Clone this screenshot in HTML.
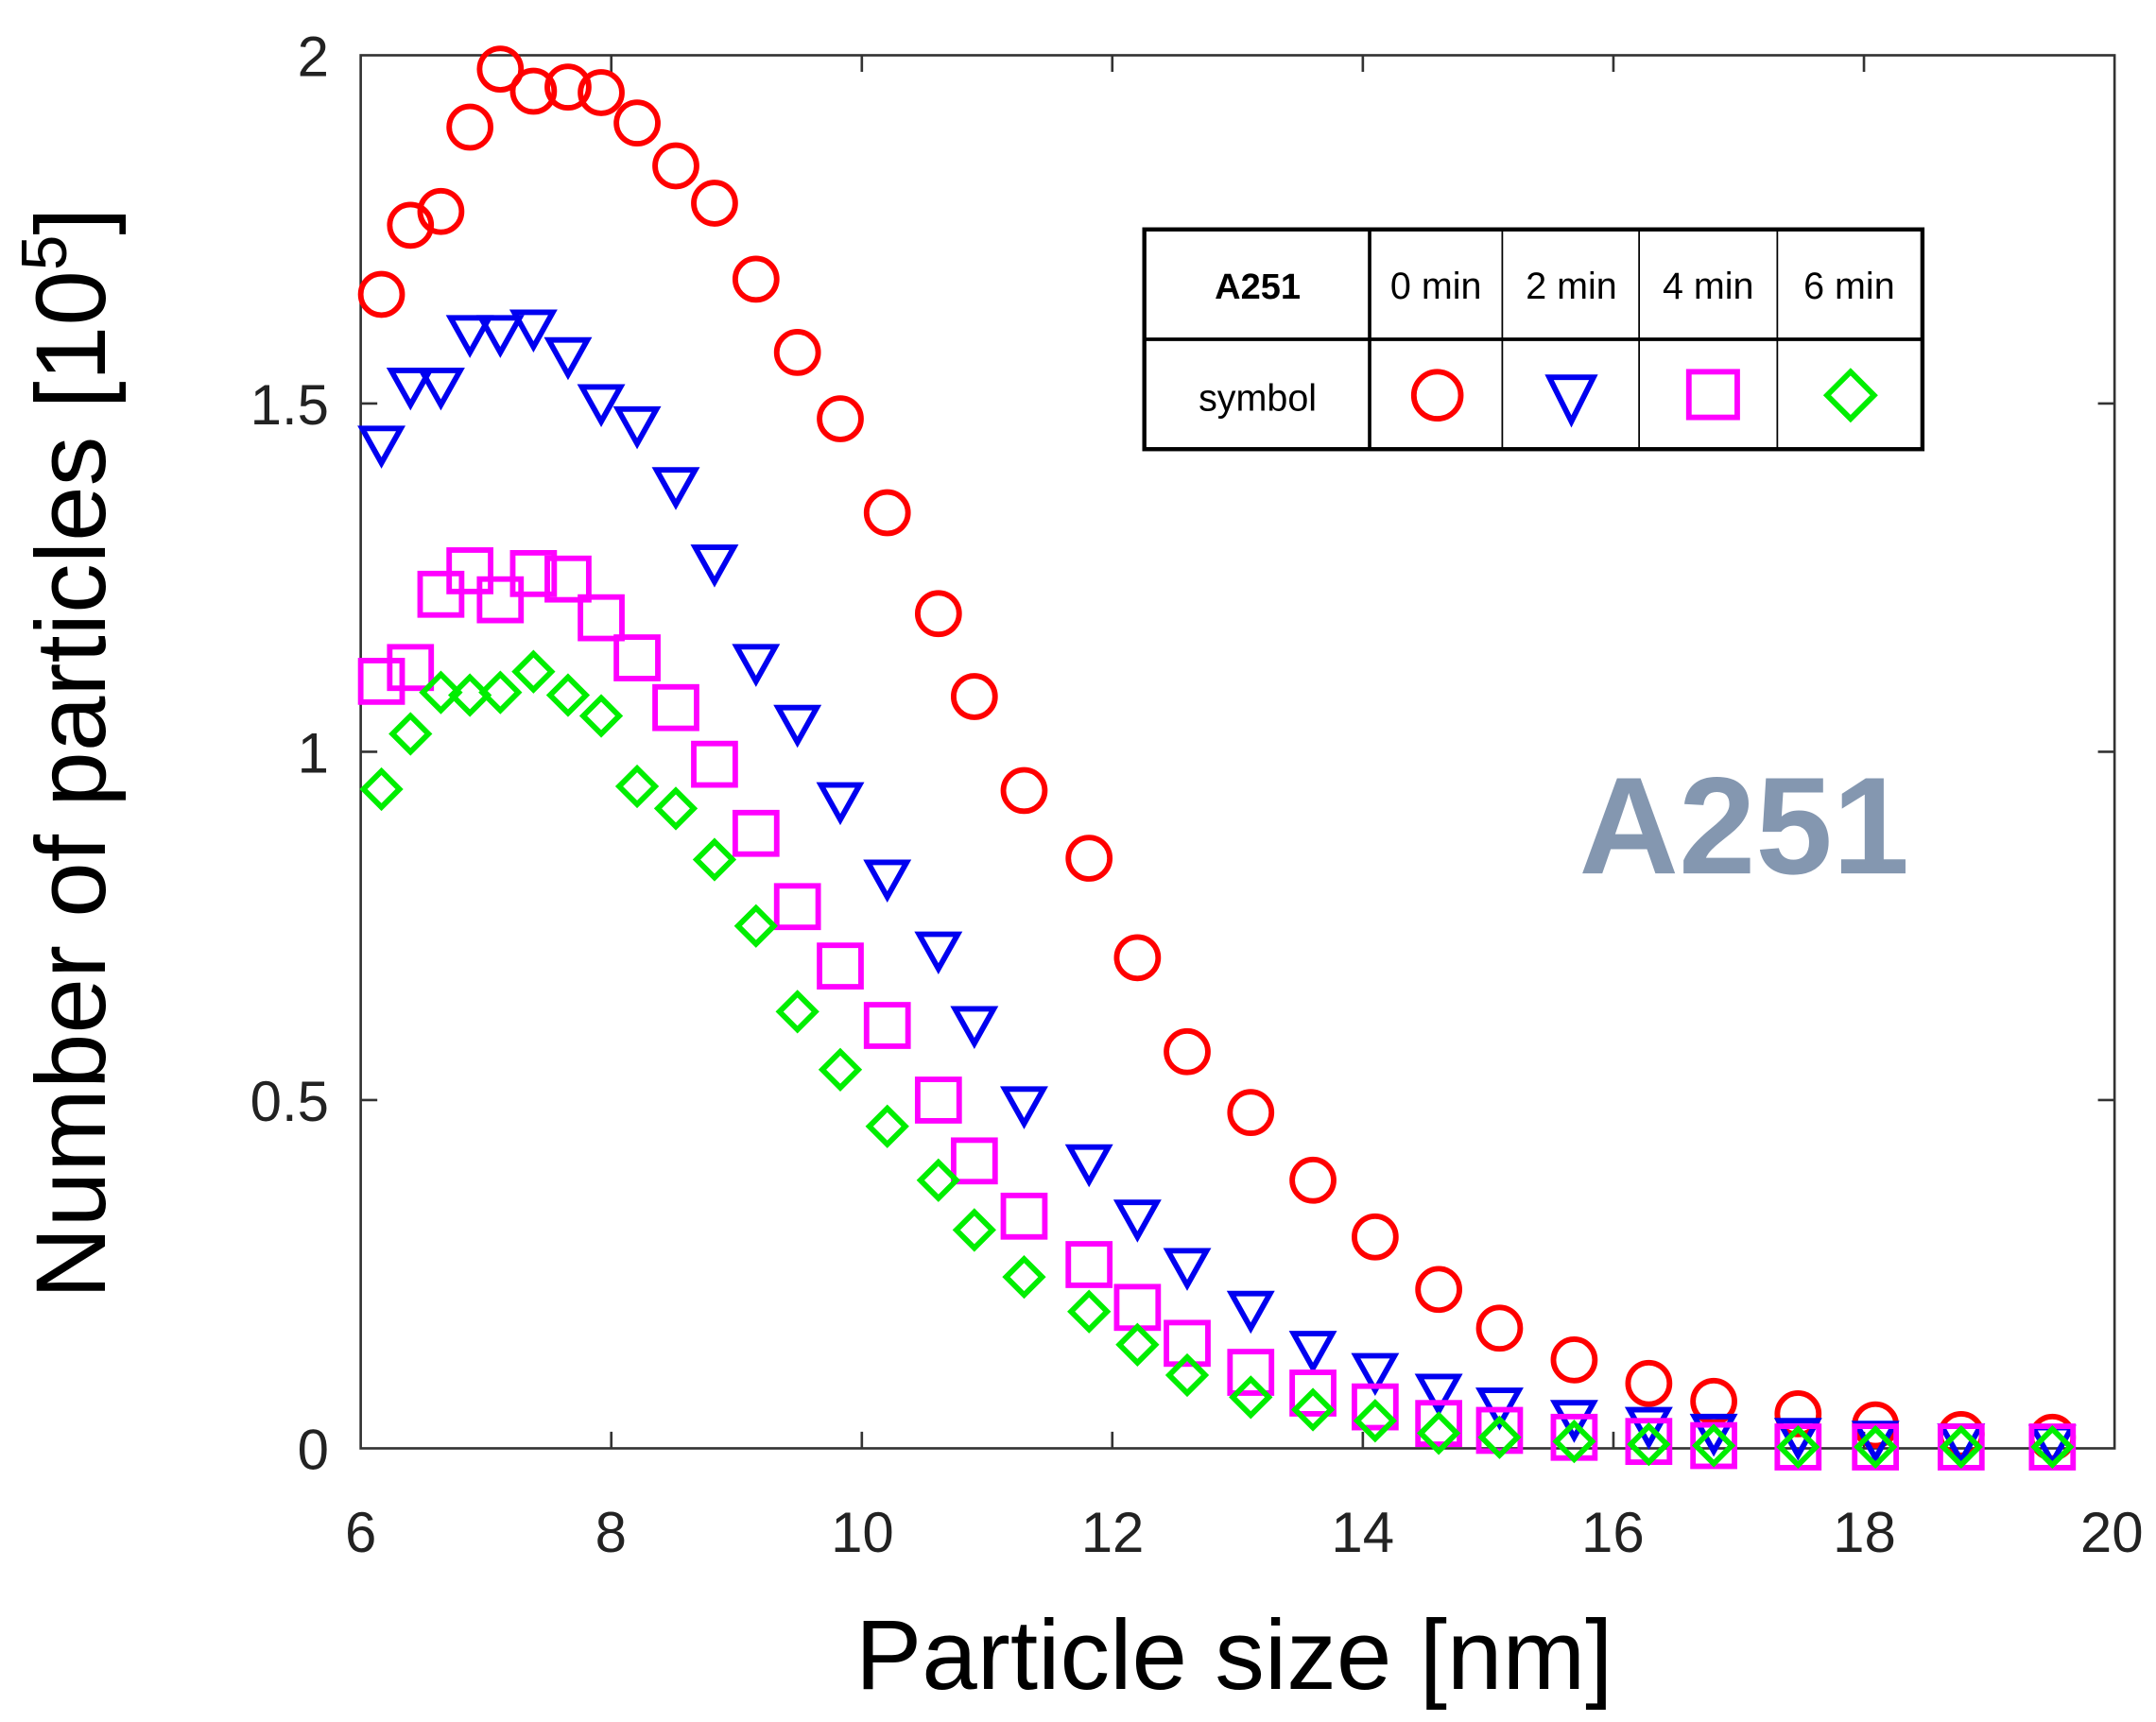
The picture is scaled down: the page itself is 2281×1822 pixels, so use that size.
<!DOCTYPE html>
<html><head><meta charset="utf-8"><style>html,body{margin:0;padding:0;background:#fff}svg{display:block}</style></head>
<body>
<svg id="s" width="2281" height="1822" viewBox="0 0 1560 1246" preserveAspectRatio="none" xmlns="http://www.w3.org/2000/svg" font-family="Liberation Sans, sans-serif">
<rect width="1560" height="1246" fill="#fff"/>
<g stroke="#333" stroke-width="1.8" fill="none">
<rect x="261" y="40" width="1269" height="1008"/>
<path d="M442.3,1048v-12M623.6,1048v-12M804.8,1048v-12M986.1,1048v-12M1167.4,1048v-12M1348.7,1048v-12M442.3,40v12M623.6,40v12M804.8,40v12M986.1,40v12M1167.4,40v12M1348.7,40v12
M261,796h12M261,544h12M261,292h12M1530,796h-12M1530,544h-12M1530,292h-12"/>
</g>
<g font-size="41" fill="#222" text-anchor="middle">
<text x="261" y="1123">6</text><text x="442" y="1123">8</text><text x="624" y="1123">10</text><text x="805" y="1123">12</text><text x="986" y="1123">14</text><text x="1167" y="1123">16</text><text x="1349" y="1123">18</text><text x="1528" y="1123">20</text>
</g>
<g font-size="41" fill="#222" text-anchor="end">
<text x="238" y="1063">0</text><text x="238" y="811">0.5</text><text x="238" y="559">1</text><text x="238" y="307">1.5</text><text x="238" y="55">2</text>
</g>
<text x="893" y="1222" font-size="72" text-anchor="middle" fill="#000">Particle size [nm]</text>
<text transform="translate(76,545) rotate(-90)" font-size="72" text-anchor="middle" fill="#000">Number of particles [10<tspan font-size="46" dy="-28">5</tspan><tspan dy="28">]</tspan></text>
<text x="1262" y="632" font-size="100" font-weight="bold" fill="#8497b0" text-anchor="middle">A251</text>
<g id="d"></g>
<g stroke="#000" fill="none">
<rect x="828" y="166" width="563" height="159" stroke-width="3" fill="#fff"/>
<path d="M828,245.5h563M991,166v159" stroke-width="2.5"/>
<path d="M1087,166v159M1186,166v159M1286,166v159" stroke-width="1.2"/>
</g>
<g font-size="27" fill="#000" text-anchor="middle">
<text x="910" y="216" font-weight="bold" font-size="26">A251</text>
<text x="1039" y="216">0 min</text><text x="1137" y="216">2 min</text><text x="1236" y="216">4 min</text><text x="1338" y="216">6 min</text>
<text x="910" y="297">symbol</text>
</g>
<g fill="none" stroke-width="4">
<circle cx="1040" cy="286" r="17" stroke="#f00"/>
<path d="M1121,273h32l-16,32z" stroke="#0000f0"/>
<rect x="1222" y="269" width="35" height="33" stroke="#f0f"/>
<path d="M1339,269l17,17l-17,17l-17,-17z" stroke="#0e0"/>
</g>
</svg>
<script>
const R=[[276,213],[297,163],[319,153],[340,92],[362,50],[386,66],[411,63],[435,67],[461,89],[489,120],[517,147],[547,202],[577,255],[608,303],[642,371],[679,444],[705,504],[741,572],[788,621],[823,693],[859,761],[905,805],[950,854],[995,895],[1041,933],[1085,961],[1139,984],[1193,1001],[1240,1014],[1301,1023],[1357,1031],[1419,1038],[1485,1040]];
const B=[322,280,280,242,242,238,258,292,308,352,408,480,524,580,636,688,742,800,842,882,917,948,977,993,1008,1018,1027,1032,1037,1040,1042,1044,1045];
const M=[493,483,430,413,434,415,419,447,476,512,553,603,656,699,742,796,840,880,915,946,972,993,1008,1018,1030,1035,1040,1043,1046,1047,1047,1047,1047];
const G=[571,531,501,503,501,486,503,518,569,585,622,670,732,774,815,854,890,924,949,973,995,1011,1020,1028,1037,1040,1043,1045,1046,1047,1047,1047,1047];
let h='';
R.forEach((p,i)=>{const x=p[0];
h+=`<circle cx="${x}" cy="${p[1]}" r="15" fill="none" stroke="#f00" stroke-width="4"/>`;});
R.forEach((p,i)=>{const x=p[0],y=B[i];
h+=`<path d="M${x-14},${y-12}h28l-14,25z" fill="none" stroke="#0000f0" stroke-width="4"/>`;});
R.forEach((p,i)=>{const x=p[0],y=M[i];
h+=`<rect x="${x-15}" y="${y-15}" width="30" height="30" fill="none" stroke="#f0f" stroke-width="4"/>`;});
R.forEach((p,i)=>{const x=p[0],y=G[i];
h+=`<path d="M${x},${y-13}l13,13l-13,13l-13,-13z" fill="none" stroke="#0e0" stroke-width="4"/>`;});
document.getElementById('d').innerHTML=h;
</script>
</body></html>
